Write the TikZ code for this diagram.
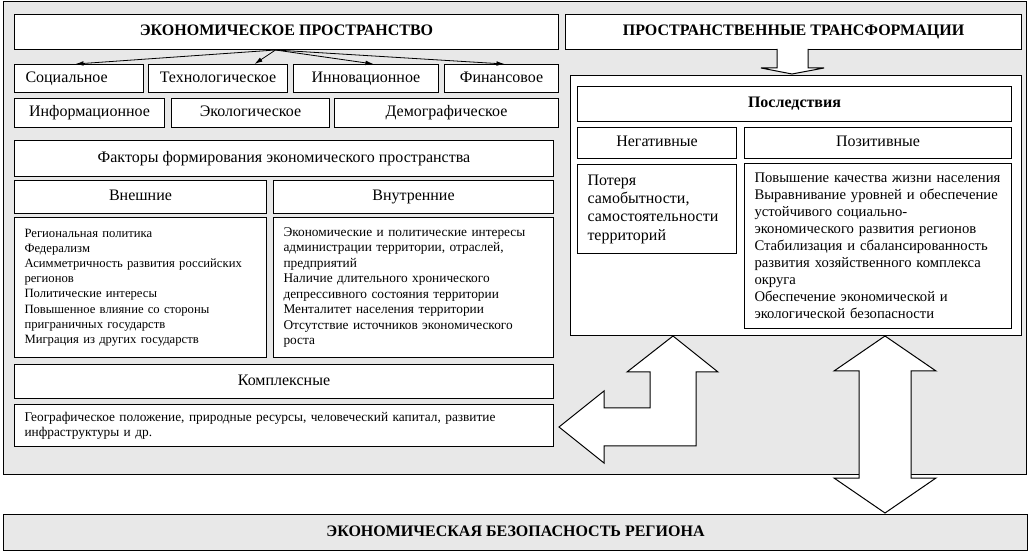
\documentclass[tikz,border=0pt]{standalone}
\usepackage{fontspec}
\setmainfont{Liberation Serif}
\usetikzlibrary{arrows.meta, positioning}

\definecolor{panelgray}{RGB}{232,232,232}

\begin{document}
\begin{tikzpicture}[
                x=0.75pt, y=-0.75pt,
                frame/.style={draw, fill=white, line width=0.75pt, anchor=north west, inner sep=0pt},
                box/.style={frame, text height=8.6pt, text depth=2.6pt, font=\fontsize{12}{14}\selectfont},
                title/.style={box, font=\fontsize{12}{14}\selectfont\bfseries},
                list/.style={frame, align=left, inner xsep=7.5pt},
                wh/.style 2 args={minimum width=#1*0.75pt, minimum height=#2*0.75pt},
                arrow/.style={-{Latex[length=6pt, width=3.5pt]}, line width=0.6pt},
                block/.style={draw, fill=white, line width=0.75pt, line join=miter}]

            \useasboundingbox (0,0) rectangle (1029,552);

            % Fond
            \node[frame, fill=panelgray, wh={1023}{473}] (panel) at (3,1) {};

            % Espace economique
            \node[title, wh={544}{35}] (ekon) at (14,14) {ЭКОНОМИЧЕСКОЕ ПРОСТРАНСТВО};
            \node[box, wh={129}{28}, align=left, text width=80.25pt, inner xsep=8.25pt] (soc) at (14,64) {Социальное};
            \node[box, wh={139}{28}] (tech) at (148,64) {Технологическое};
            \node[box, wh={145}{28}] (innov) at (293,64) {Инновационное};
            \node[box, wh={114}{28}] (fin) at (444,64) {Финансовое};
            \node[box, wh={150}{29}] (info) at (14,98) {Информационное};
            \node[box, wh={158}{29}] (eco) at (171,98) {Экологическое};
            \node[box, wh={224}{29}] (demo) at (334,98) {Демографическое};

            \coordinate (src) at ([xshift=-8.25pt]ekon.south);
            \draw[arrow] (src) -- ([xshift=-2.6pt]soc.north);
            \draw[arrow] (src) -- ([xshift=27.4pt]tech.north);
            \draw[arrow] (src) -- ([xshift=5.6pt]innov.north);
            \draw[arrow] (src) -- ([xshift=2.25pt]fin.north);

            % Facteurs
            \node[box, wh={539}{36}] (fact) at (14,140) {Факторы формирования экономического пространства};
            \node[box, wh={252}{33}] (ext) at (14,180) {Внешние};
            \node[box, wh={280}{33}] (int) at (273,180) {Внутренние};
            \node[list, text width=174pt, minimum height=105pt, font=\fontsize{9.5}{11.4}\selectfont] (extlist) at (14,217)
                {Региональная политика\\
                 Федерализм\\
                 Асимметричность развития российских\\
                 регионов\\
                 Политические интересы\\
                 Повышенное влияние со стороны\\
                 приграничных государств\\
                 Миграция из других государств};
            \node[list, text width=195pt, minimum height=105pt, font=\fontsize{10}{11.6}\selectfont] (intlist) at (273,217)
                {Экономические и политические интересы\\
                 администрации территории, отраслей,\\
                 предприятий\\
                 Наличие длительного хронического\\
                 депрессивного состояния территории\\
                 Менталитет населения территории\\
                 Отсутствие источников экономического\\
                 роста};
            \node[box, wh={539}{34}] (kompl) at (14,364) {Комплексные};
            \node[list, text width=389.25pt, minimum height=31.5pt, font=\fontsize{10}{11.25}\selectfont] (geo) at (14,404)
                {Географическое положение, природные ресурсы, человеческий капитал, развитие\\
                 инфраструктуры и др.};

            % Transformations
            \node[title, wh={456}{35}] (trans) at (565,14) {ПРОСТРАНСТВЕННЫЕ ТРАНСФОРМАЦИИ};
            \node[frame, wh={451}{260}] (conseq) at (570,75) {};
            \node[title, wh={434}{35}] (posl) at (577,86) {Последствия};
            \node[box, wh={159}{31}] (neg) at (577,127) {Негативные};
            \node[box, wh={267}{31}] (pos) at (744,127) {Позитивные};
            \node[list, text width=104.25pt, minimum height=66.75pt, font=\fontsize{12}{13.75}\selectfont] (neglist) at (577,164)
                {Потеря\\
                 самобытности,\\
                 самостоятельности\\
                 территорий};
            \node[list, text width=185.25pt, minimum height=123.75pt, font=\fontsize{11}{12.75}\selectfont] (poslist) at (744,163)
                {Повышение качества жизни населения\\
                 Выравнивание уровней и обеспечение\\
                 устойчивого социально-\\
                 экономического развития регионов\\
                 Стабилизация и сбалансированность\\
                 развития хозяйственного комплекса\\
                 округа\\
                 Обеспечение экономической и\\
                 экологической безопасности};

            % Securite
            \node[title, fill=panelgray, wh={1024}{36}] (secur) at (3,514) {ЭКОНОМИЧЕСКАЯ БЕЗОПАСНОСТЬ РЕГИОНА};

            % Fleches
            \filldraw[block] (777,49) -- (777,68) -- (761,68) -- (792,74) -- (824,68) -- (808,68) -- (808,49);
            \filldraw[block] (673,336) -- (718,372) -- (696,372) -- (696,446) -- (604,446) -- (604,463) -- (559,427)
                -- (604,391) -- (604,408) -- (650,408) -- (650,372) -- (627,372) -- cycle;
            \filldraw[block] (885,336) -- (936,371) -- (911,371) -- (911,478) -- (936,478) -- (885,513)
                -- (834,478) -- (859,478) -- (859,371) -- (834,371) -- cycle;

        \end{tikzpicture}
\end{document}
